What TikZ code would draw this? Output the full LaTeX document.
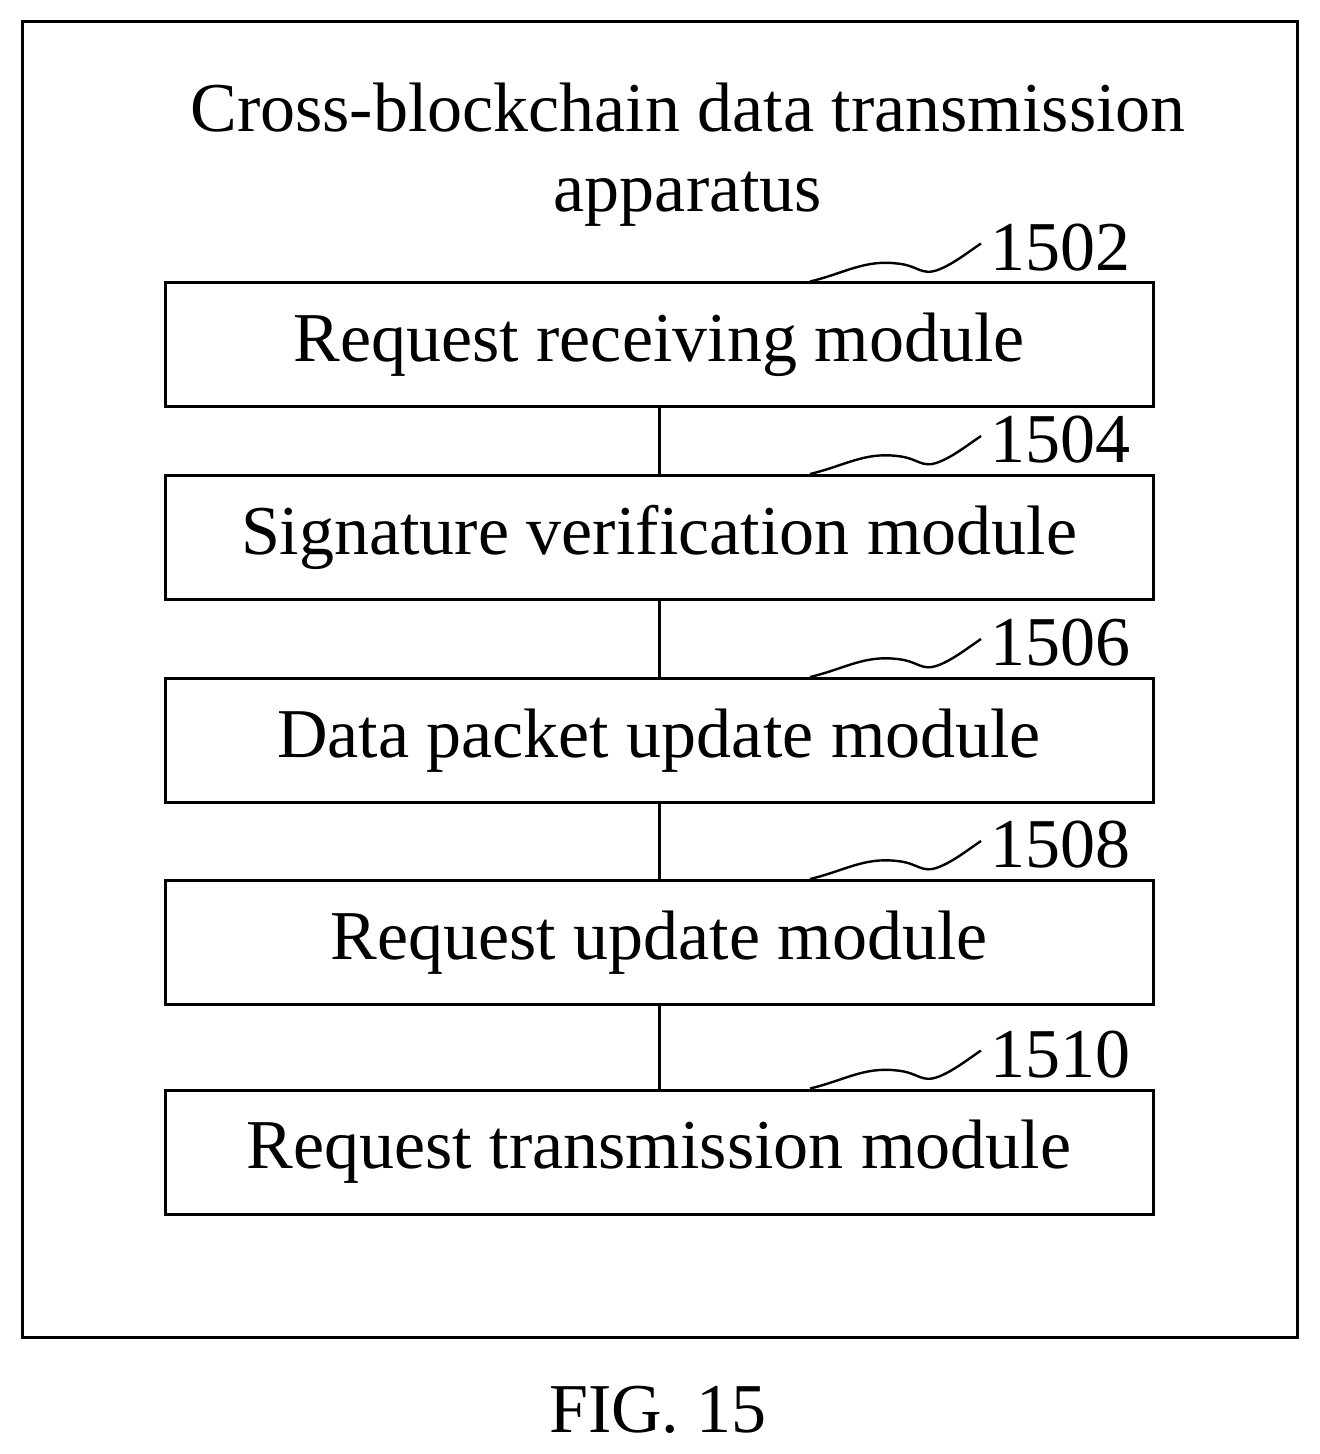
\documentclass[tikz,border=0pt]{standalone}
\usepackage{fontspec}
\setmainfont{Liberation Serif}
\begin{document}
\begin{tikzpicture}[x=0.5pt,y=-0.5pt,
 box/.style={draw,line width=1.5pt,minimum width=494pt,minimum height=62pt,inner sep=0pt,font=\fontsize{35}{40}\selectfont},
 lbl/.style={font=\fontsize{35}{40}\selectfont,inner sep=0pt},
 wig/.style={line width=1.2pt},
 con/.style={line width=1.5pt}]
\useasboundingbox (0,0) rectangle (1319,1454);
\node[draw,line width=1.5pt,minimum width=637.5pt,minimum height=657.5pt,inner sep=0pt] (outer) at (659.5,679.5) {};
\node[lbl,align=center,font=\fontsize{35}{40}\selectfont] (title) at (688,155) {Cross-blockchain data transmission\\apparatus};
\foreach \n/\y/\t in {a/345/Request receiving module,b/537.5/Signature verification module,c/740.5/Data packet update module,d/942.5/Request update module,e/1152/Request transmission module}{
 \node[box] (\n) at (659,\y) {\t};
}
\foreach \n/\num in {a/1502,b/1504,c/1506,d/1508,e/1510}{
 \begin{scope}[shift={(\n.north)}]
 \draw[wig] (151,0) .. controls (185,-8) and (205,-22) .. (238,-18) .. controls (260,-16) and (262,-5) .. (280,-12) .. controls (295,-18) and (310,-30) .. (322,-38);
 \node[lbl,anchor=west] at (331,-34) {\num};
 \end{scope}
}
\draw[con] (a) -- (b); \draw[con] (b) -- (c); \draw[con] (c) -- (d); \draw[con] (d) -- (e);
\node[lbl] (fig) at (658,1410) {FIG. 15};
\end{tikzpicture}
\end{document}
